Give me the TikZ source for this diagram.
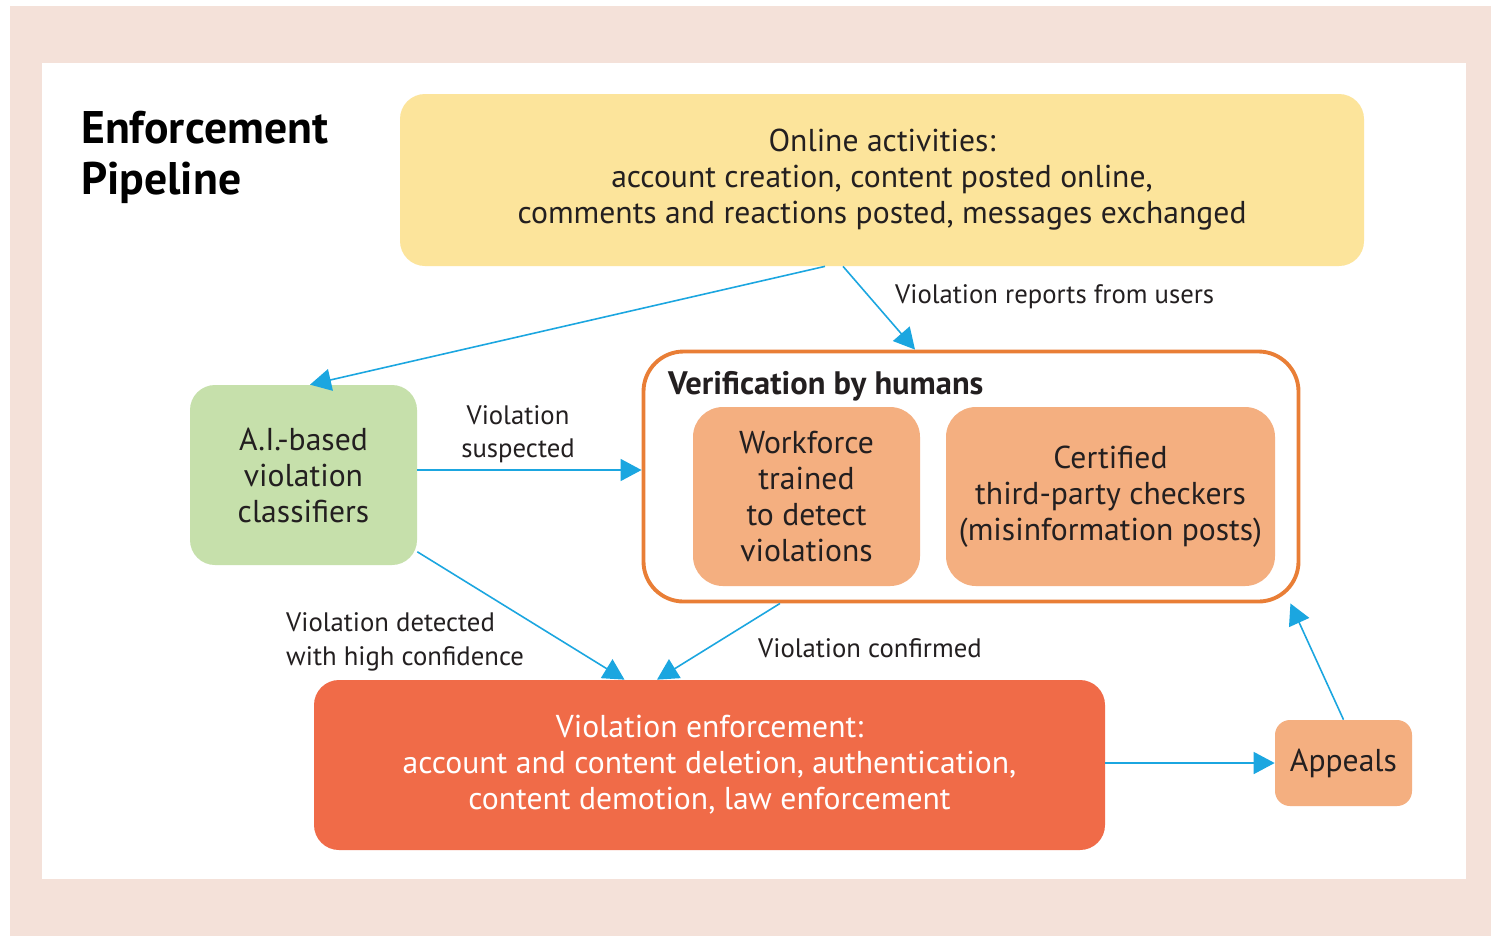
\documentclass[tikz,border=0pt]{standalone}
\usepackage{fontspec}
\setmainfont{PT Sans}
\usetikzlibrary{
    arrows.meta,
    positioning,
    calc
}
\definecolor{PanelPink}{RGB}{244,225,217}
\definecolor{ActYellow}{RGB}{252,228,155}
\definecolor{ClsGreen}{RGB}{198,224,171}
\definecolor{HumOrange}{RGB}{244,175,128}
\definecolor{EdgeOrange}{RGB}{233,126,54}
\definecolor{EnfRed}{RGB}{240,107,72}
\definecolor{FlowBlue}{RGB}{27,166,224}
\definecolor{InkDark}{RGB}{35,31,32}
\tikzset{
  pbox/.style   = {rounded corners=0.5cm, align=center, text=InkDark,
                   font=\fontsize{18}{20.5}\selectfont},
  flow/.style   = {-{Triangle[length=0.42cm,width=0.44cm]}, FlowBlue,
                   line width=0.9pt},
  flowlbl/.style = {text=InkDark, font=\fontsize{15.2}{19}\selectfont}
}

\begin{document}
\begin{tikzpicture}[
    hbox/.style={pbox, fill=HumOrange, rounded corners=0.6cm,
      minimum width=4.54cm, minimum height=3.58cm},
    titlestyle/.style={font=\fontsize{26}{29}\selectfont\bfseries, text=black}
  ]
    \useasboundingbox (0,0) rectangle (29.82,-18.72);
    \fill[PanelPink] (0.2,-0.12) rectangle (29.82,-18.72);
    \fill[white] (0.84,-1.26) rectangle (29.32,-17.58);

    \node[titlestyle, anchor=west, align=left] (title) at (1.5,-3.14) {Enforcement\\Pipeline};

    \node[pbox, fill=ActYellow, minimum width=19.28cm, minimum height=3.44cm] (online) at (17.64,-3.6)
      {Online activities:\\account creation, content posted online,\\comments and reactions posted, messages exchanged};

    \node[pbox, fill=ClsGreen, minimum width=4.54cm, minimum height=3.6cm] (ai) at (6.07,-9.5)
      {A.I.-based\\violation\\classifiers};

    \node[draw=EdgeOrange, line width=2.2pt, rounded corners=0.8cm,
      minimum width=13.1cm, minimum height=5.0cm] (verify) at (19.42,-9.53) {};
    \node[anchor=west, font=\fontsize{18.5}{22}\selectfont\bfseries, text=InkDark] (vtitle) at (13.24,-7.72)
      {Verification by humans};

    \node[hbox] (workforce) at (16.13,-9.93) {Workforce\\trained\\to detect\\violations};
    \node[hbox, minimum width=6.58cm] (checkers) at (22.21,-9.93)
      {Certified\\third-party checkers\\(misinformation posts)};

    \node[pbox, fill=EnfRed, text=white, minimum width=15.82cm, minimum height=3.4cm] (enforce) at (14.19,-15.3)
      {Violation enforcement:\\account and content deletion, authentication,\\content demotion, law enforcement};

    \node[pbox, fill=HumOrange, rounded corners=0.3cm, minimum width=2.74cm, minimum height=1.72cm] (appeals) at (26.87,-15.26)
      {Appeals};

    \draw[flow] ([xshift=-1.14cm]online.south) -- ([xshift=0.13cm]ai.north);
    \draw[flow] ([xshift=-0.78cm]online.south) -- ([xshift=-1.12cm]verify.north);
    \draw[flow] ([yshift=1mm]ai.east) -- ([yshift=1mm]ai.east -| verify.west);
    \draw[flow] (ai.-34) -- ([xshift=-1.7cm]enforce.north);
    \draw[flow] ([xshift=-3.82cm]verify.south) -- ([xshift=-1.05cm]enforce.north);
    \draw[flow] (appeals.west -| enforce.east) -- (appeals.west);
    \draw[flow] (appeals.north) -- ([xshift=-2mm]verify.south east);

    \node[flowlbl, anchor=west] (lreports) at (17.78,-5.94) {Violation reports from users};
    \node[flowlbl, align=center] (lsuspect) at (10.36,-8.68) {Violation\\suspected};
    \node[flowlbl, anchor=west, align=left] (ldetect) at (5.6,-12.84) {Violation detected\\with high confidence};
    \node[flowlbl, anchor=west] (lconfirm) at (15.04,-12.96) {Violation confirmed};
\end{tikzpicture}
\end{document}
